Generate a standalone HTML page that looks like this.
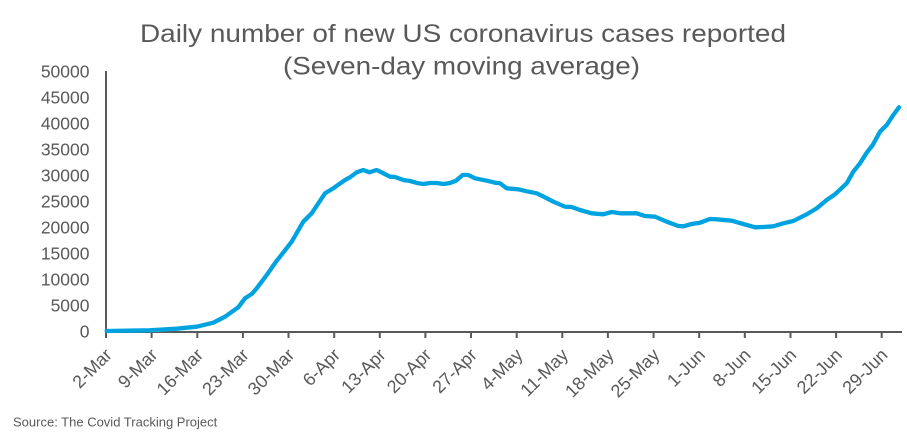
<!DOCTYPE html>
<html><head><meta charset="utf-8"><style>
html,body{margin:0;padding:0;background:#fff;}
svg{display:block;}
text{font-family:"Liberation Sans",Arial,sans-serif;fill:#595959;}
</style></head><body>
<svg width="907" height="436" viewBox="0 0 907 436" xmlns="http://www.w3.org/2000/svg">
<rect width="907" height="436" fill="#fff"/>
<text x="463" y="42" font-size="25" text-anchor="middle" textLength="646" lengthAdjust="spacingAndGlyphs">Daily number of new US coronavirus cases reported</text>
<text x="461.5" y="74.5" font-size="25" text-anchor="middle" textLength="357" lengthAdjust="spacingAndGlyphs">(Seven-day moving average)</text>
<g font-size="17.5" text-anchor="end">
<text x="89.5" y="77.7">50000</text>
<text x="89.5" y="103.7">45000</text>
<text x="89.5" y="129.7">40000</text>
<text x="89.5" y="155.7">35000</text>
<text x="89.5" y="181.7">30000</text>
<text x="89.5" y="207.7">25000</text>
<text x="89.5" y="233.7">20000</text>
<text x="89.5" y="259.7">15000</text>
<text x="89.5" y="285.7">10000</text>
<text x="89.5" y="311.7">5000</text>
<text x="89.5" y="337.7">0</text>
</g>
<g stroke="#595959" stroke-width="2" fill="none">
<line x1="106" y1="71" x2="106" y2="338"/>
<line x1="105" y1="332" x2="902" y2="332"/>
<path d="M151.6 332V338M197.3 332V338M242.9 332V338M288.5 332V338M334.2 332V338M379.8 332V338M425.4 332V338M471 332V338M516.7 332V338M562.3 332V338M607.9 332V338M653.6 332V338M699.2 332V338M744.8 332V338M790.5 332V338M836.1 332V338M881.7 332V338"/>
</g>
<polyline fill="none" stroke="#00A3E0" stroke-width="4.3" stroke-linejoin="round" stroke-linecap="round" points="106.7,331 150,330.3 176.7,328.7 196.7,326.7 213.3,322.7 225,316.7 238.3,307.3 245,298.3 251.7,294 256.7,288.3 266.7,275 276.7,260.7 280,256.7 291.7,241.7 303.3,221.7 311.7,213.3 325,193.3 333.3,188.3 345,180 350,177.3 356.7,172.3 363.3,170 369.3,172.3 376.7,170 383.3,173.3 390,176.7 395,177 403.3,180 410,181 418.3,183.3 423.3,184 430,183 436.7,183 443.3,184 450,183 456,180.7 462.7,175 468.3,175 475,178.3 486.7,180.7 495,182.7 500,183.3 506.7,188.3 518.3,189.3 526.7,191.3 536.7,193.3 545,197.3 553.3,201.7 565,206.7 571.7,207 580,210 591.7,213.3 603.3,214.3 611.7,212 620,213.3 636.7,213.3 645,216 655,216.7 666.7,221.7 678.3,226 683.3,226.3 691.7,224 700,222.7 710,219 716.7,219.3 731.7,220.7 743.3,224 755,227.3 763.3,227 773.3,226.3 783.3,223.3 793.3,221 806.7,214.3 816.7,208.3 826.7,200 835,194.3 846.7,183.3 853.3,171.7 860,163.3 866.7,152.7 872.7,145 880,131.7 886.7,125 893.3,115 899,107.3"/>
<g font-size="18" text-anchor="end">
<text transform="translate(113,356) rotate(-45)">2-Mar</text>
<text transform="translate(158.6,356) rotate(-45)">9-Mar</text>
<text transform="translate(204.3,356) rotate(-45)">16-Mar</text>
<text transform="translate(249.9,356) rotate(-45)">23-Mar</text>
<text transform="translate(295.5,356) rotate(-45)">30-Mar</text>
<text transform="translate(341.2,356) rotate(-45)">6-Apr</text>
<text transform="translate(386.8,356) rotate(-45)">13-Apr</text>
<text transform="translate(432.4,356) rotate(-45)">20-Apr</text>
<text transform="translate(478,356) rotate(-45)">27-Apr</text>
<text transform="translate(523.7,356) rotate(-45)">4-May</text>
<text transform="translate(569.3,356) rotate(-45)">11-May</text>
<text transform="translate(614.9,356) rotate(-45)">18-May</text>
<text transform="translate(660.6,356) rotate(-45)">25-May</text>
<text transform="translate(706.2,356) rotate(-45)">1-Jun</text>
<text transform="translate(751.8,356) rotate(-45)">8-Jun</text>
<text transform="translate(797.5,356) rotate(-45)">15-Jun</text>
<text transform="translate(843.1,356) rotate(-45)">22-Jun</text>
<text transform="translate(888.7,356) rotate(-45)">29-Jun</text>
</g>
<text x="13" y="426.5" font-size="13">Source: The Covid Tracking Project</text>
</svg>
</body></html>
